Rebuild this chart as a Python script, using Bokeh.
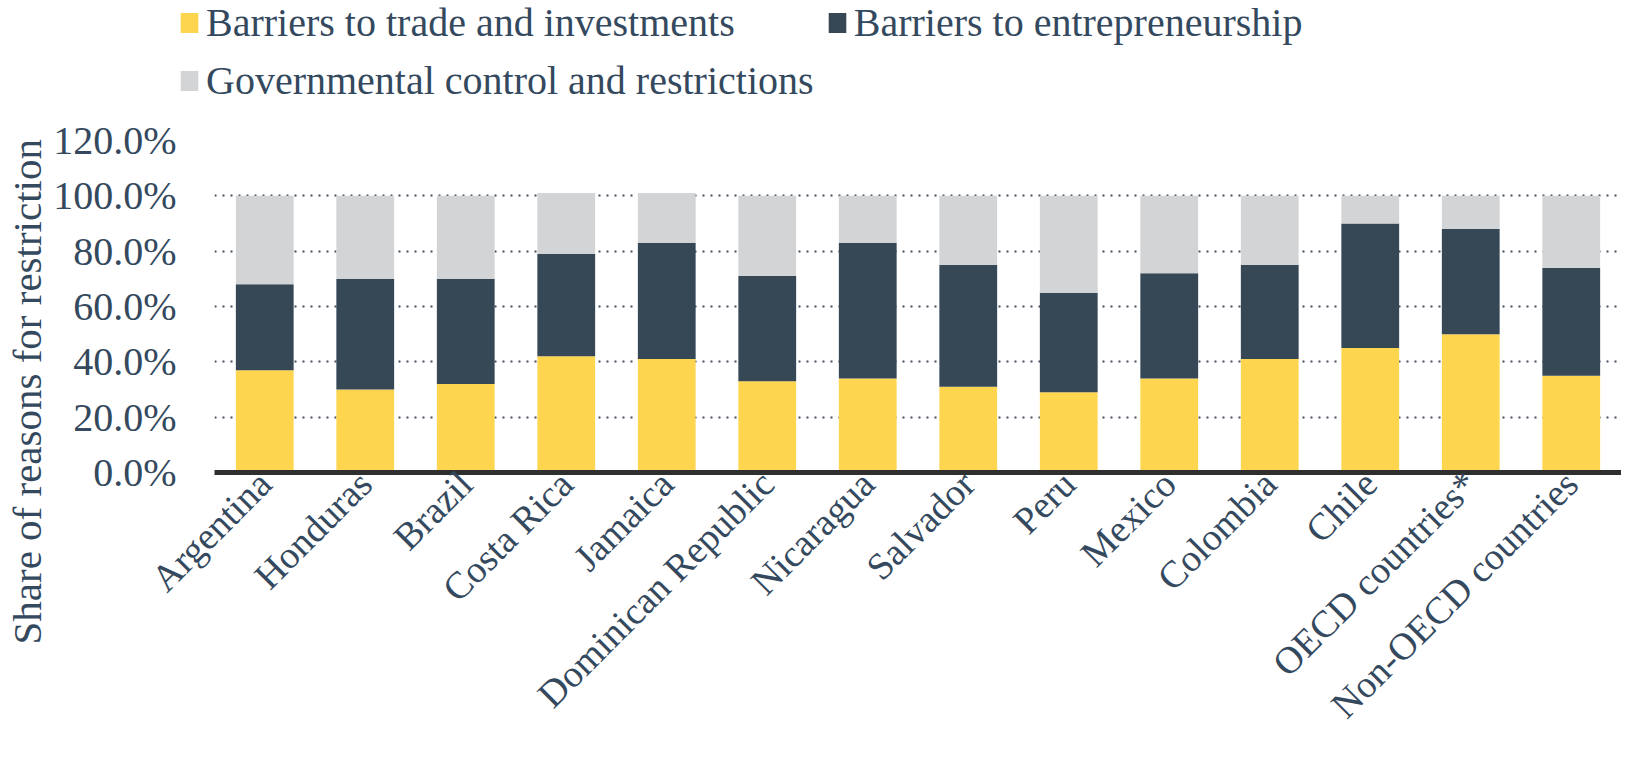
import math
from bokeh.plotting import figure
from bokeh.models import (FactorRange, Range1d, FixedTicker, PrintfTickFormatter,
                          Legend, LegendItem, Title)
from bokeh.embed import file_html
from bokeh.resources import INLINE

categories = ["Argentina", "Honduras", "Brazil", "Costa Rica", "Jamaica",
              "Dominican Republic", "Nicaragua", "Salvador", "Peru", "Mexico",
              "Colombia", "Chile", "OECD countries*", "Non-OECD countries"]
trade = [37, 30, 32, 42, 41, 33, 34, 31, 29, 34, 41, 45, 50, 35]
entrepreneurship = [31, 40, 38, 37, 42, 38, 49, 44, 36, 38, 34, 45, 38, 39]
government = [32, 30, 30, 22, 18, 29, 17, 25, 35, 28, 25, 10, 12, 26]
series_names = ["Barriers to trade and investments", "Barriers to entrepreneurship",
                "Governmental control and restrictions"]
y_ticks = [0, 20, 40, 60, 80, 100, 120]
y_title = "Share of reasons for restriction"

FONT = "Liberation Serif"
TXT = "#34495e"
colors = ["#FED54F", "#364756", "#D3D4D6"]

# ---------------- legend strip (own small figure) ----------------
LEG_H = 109
pl = figure(width=1613, height=LEG_H, x_range=Range1d(0, 1), y_range=Range1d(0, 1),
            output_backend="svg", toolbar_location=None,
            x_axis_location=None, y_axis_location=None,
            min_border_left=0, min_border_right=0, min_border_top=0,
            min_border_bottom=0)
pl.outline_line_color = None
pl.grid.visible = False
# legend-only renderers, kept outside the visible range
dummies = [pl.vbar(x=[5], top=[5], bottom=[4], width=0.5, color=c, line_color=None)
           for c in colors]

common = dict(orientation="horizontal", padding=0, margin=0, spacing=91,
              glyph_width=22, glyph_height=25, label_standoff=6,
              label_text_font=FONT, label_text_font_size="40px",
              label_text_color=TXT, border_line_color=None,
              background_fill_alpha=0)
leg1 = Legend(items=[LegendItem(label=series_names[0], renderers=[dummies[0]]),
                     LegendItem(label=series_names[1], renderers=[dummies[1]])],
              location=(178, 63), **common)
leg2 = Legend(items=[LegendItem(label=series_names[2], renderers=[dummies[2]])],
              location=(178, 5), **common)
pl.add_layout(leg1, "center")
pl.add_layout(leg2, "center")

# ---------------- main chart ----------------
source = dict(cat=categories, trade=trade, ent=entrepreneurship, gov=government)

p = figure(width=1621, height=645, x_range=FactorRange(*categories),
           y_range=Range1d(0, 120), output_backend="svg", toolbar_location=None,
           min_border_left=205, min_border_right=0, min_border_top=31,
           min_border_bottom=282)
p.outline_line_color = None
p.background_fill_color = "white"

rs = p.vbar_stack(["trade", "ent", "gov"], x="cat", width=0.575, source=source,
                  color=colors, line_color=None)

# y axis
p.yaxis.ticker = FixedTicker(ticks=y_ticks)
p.yaxis.formatter = PrintfTickFormatter(format="%.1f%%")
p.yaxis.axis_line_color = None
p.yaxis.major_tick_line_color = None
p.yaxis.major_tick_out = 0
p.yaxis.minor_tick_line_color = None
p.yaxis.major_label_text_font = FONT
p.yaxis.major_label_text_font_size = "40px"
p.yaxis.major_label_text_color = TXT
p.yaxis.major_label_standoff = 38

p.add_layout(Title(text=y_title, align="left", offset=-172,
                   text_font=FONT, text_font_size="41px", text_font_style="normal",
                   text_color=TXT, standoff=2), "left")

# x axis
p.xaxis.axis_line_width = 5
p.xaxis.axis_line_color = "#2f2f2f"
p.xaxis.major_tick_line_color = None
p.xaxis.major_tick_out = 0
p.xaxis.minor_tick_line_color = None
p.xaxis.major_label_orientation = math.pi / 4
p.xaxis.major_label_text_font = FONT
p.xaxis.major_label_text_font_size = "38px"
p.xaxis.major_label_text_color = TXT
p.xaxis.major_label_standoff = 5

p.xgrid.grid_line_color = None
p.ygrid.ticker = FixedTicker(ticks=y_ticks)
p.ygrid.grid_line_color = "#3c4a5a"
p.ygrid.grid_line_width = 2
p.ygrid.grid_line_dash = "2 6"

open("out.html", "w").write(file_html([pl, p], INLINE))
